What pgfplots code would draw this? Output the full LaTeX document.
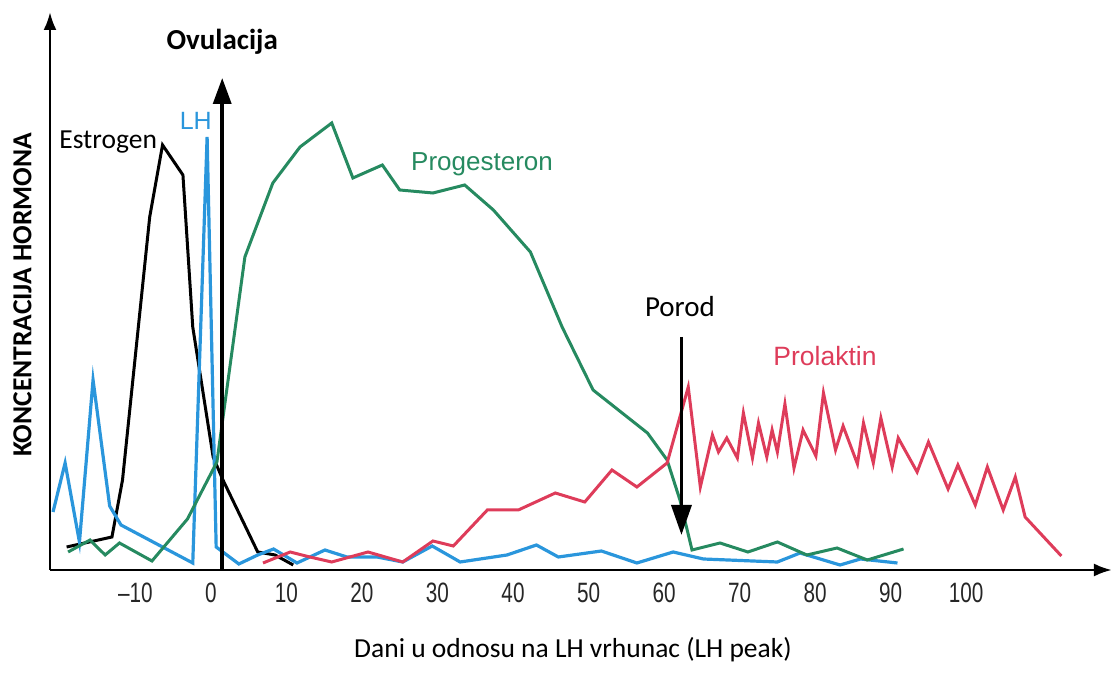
\documentclass[border=0pt]{standalone}
\usepackage{pgfplots}
\pgfplotsset{compat=1.18}
\usepackage{fontspec}
\setmainfont{Carlito}
\newfontfamily\arialf{Liberation Sans}
\newfontfamily\narrowf{Liberation Sans}[FakeStretch=0.74]
\usetikzlibrary{arrows.meta}
\definecolor{lhblue}{RGB}{42,150,220}
\definecolor{proggreen}{RGB}{38,138,96}
\definecolor{prolred}{RGB}{222,60,90}
\begin{document}
\begin{tikzpicture}[x=1pt,y=1pt]
\useasboundingbox (0,0) rectangle (1117,682);
\begin{axis}[
  at={(50pt,112pt)}, anchor=south west,
  scale only axis, width=1062pt, height=558pt,
  xmin=-21.3, xmax=119.3, ymin=0, ymax=558,
  axis lines=left, clip=false,
  axis line style={line width=2.8pt, -{Latex[length=18pt,width=13pt]}},
  xtick={-10,0,10,20,30,40,50,60,70,80,90,100},
  xticklabels={–10,0,10,20,30,40,50,60,70,80,90,100},
  xticklabel style={anchor=center, yshift=-23pt, font=\narrowf\fontsize{28}{28}\selectfont, text=black!85},
  ytick=\empty,
  major tick length=0pt,
  xlabel={Dani u odnosu na LH vrhunac (LH peak)},
  xlabel style={at={(axis description cs:0.4925,0)}, anchor=center, yshift=-80pt, font=\fontsize{27.5}{27.5}\selectfont},
  ylabel={\bfseries KONCENTRACIJA HORMONA},
  ylabel style={at={(axis description cs:-0.026,0.493)}, anchor=center, font=\fontsize{27.5}{27.5}\selectfont},
]
% Estrogen
\addplot[black, line width=3pt] coordinates {
(-19.1,23) (-13.1,33) (-11.7,90) (-8.1,353) (-6.4,425) (-3.7,395) (-2.4,243) (0.3,113) (1.6,90) (6.2,18) (8.5,15) (10.9,5)
};
% LH
\addplot[lhblue, line width=3.2pt] coordinates {
(-20.9,58) (-19.3,107) (-17.4,28) (-15.6,190) (-13.4,64) (-11.9,45) (-2.4,7) (-0.5,433) (0.7,23) (3.7,6) (6.2,15) (8.3,21) (11.4,7) (15.1,20) (18.0,13) (22.0,13) (25.4,8) (29.3,24) (33.0,8) (39.2,15) (43.1,25) (46.0,13) (51.7,19) (56.4,7) (61.2,18) (65.2,11) (75.0,8) (78.0,17) (83.3,5) (86.0,11) (90.9,7)
};
% Progesteron
\addplot[proggreen, line width=3pt] coordinates {
(-18.9,18) (-16.0,30) (-14.0,15) (-12.1,27) (-7.8,9) (-3.1,51) (0.8,108) (4.5,313) (8.2,387) (11.8,423) (16.0,447) (18.8,392) (22.7,405) (25.0,380) (29.4,377) (33.6,385) (37.4,360) (42.3,318) (46.5,243) (50.6,180) (57.8,137) (60.4,110) (62.1,70) (63.7,20) (67.4,27) (71.1,18) (75.0,28) (78.9,15) (82.9,22) (86.9,10) (91.7,21)
};
% Prolaktin
\addplot[prolred, line width=3pt] coordinates {
(6.9,7) (10.5,18) (13.1,13) (16.0,8) (20.8,18) (25.4,8) (29.4,29) (32.1,24) (36.6,60) (40.7,60) (45.6,77) (49.5,68) (53.1,100) (56.4,83) (60.4,107) (63.2,183) (64.8,83) (66.4,135) (67.2,118) (68.3,132) (69.7,112) (70.5,157) (71.7,112) (72.5,147) (73.6,113) (74.3,140) (75.0,118) (76.0,166) (77.2,102) (78.4,140) (80.1,114) (81.1,177) (82.7,120) (83.7,144) (85.6,106) (86.4,147) (87.7,107) (88.7,152) (90.2,103) (91.0,132) (93.5,98) (95.0,128) (97.6,81) (98.9,105) (101.2,65) (102.8,103) (104.9,60) (106.5,93) (107.8,53) (112.6,14)
};
% event arrows
\draw[line width=3.5pt, -{Triangle[length=26pt,width=18pt]}] (axis cs:1.5,0) -- (axis cs:1.5,492);
\draw[line width=3.5pt, -{Triangle[length=30pt,width=20pt]}] (axis cs:62.3,233) -- (axis cs:62.3,35);
% labels
\node[font=\bfseries\fontsize{29}{29}\selectfont] at (axis cs:1.5,528) {Ovulacija};
\node[font=\fontsize{27.5}{27.5}\selectfont] at (axis cs:-13.6,428) {Estrogen};
\node[font=\arialf\fontsize{25}{25}\selectfont, text=lhblue] at (axis cs:-2.0,449) {LH};
\node[font=\arialf\fontsize{26}{26}\selectfont, text=proggreen] at (axis cs:35.9,406) {Progesteron};
\node[font=\arialf\fontsize{26.5}{26.5}\selectfont, text=prolred] at (axis cs:81.3,214) {Prolaktin};
\node[font=\fontsize{29}{29}\selectfont] at (axis cs:62.1,263) {Porod};
\end{axis}
\end{tikzpicture}
\end{document}
